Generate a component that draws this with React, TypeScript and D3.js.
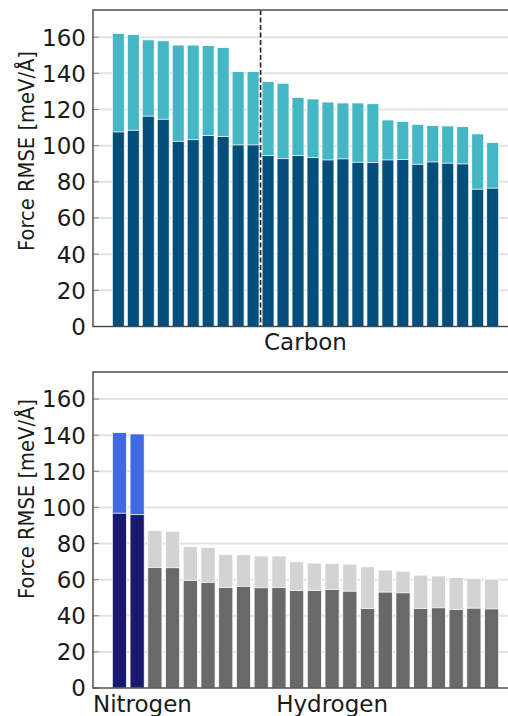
import React from "react";
import * as d3 from "d3";

const carbonHigh = [162.1, 161.5, 158.5, 158.0, 155.6, 155.6, 155.4, 154.3, 141.0, 141.0, 135.4, 134.5, 126.7, 125.8, 124.1, 123.6, 123.6, 123.2, 114.2, 113.3, 111.8, 111.1, 110.9, 110.5, 106.5, 101.7];
const carbonLow = [107.6, 108.5, 116.3, 114.6, 102.4, 103.3, 105.6, 105.0, 100.4, 100.4, 94.5, 92.8, 94.5, 93.4, 92.1, 92.7, 90.8, 90.6, 92.1, 92.3, 89.7, 91.0, 90.3, 89.9, 75.9, 76.5];
const nitrogenHigh = [141.5, 140.7];
const nitrogenLow = [96.8, 96.0];
const hydrogenHigh = [87.3, 86.8, 78.4, 77.9, 74.0, 73.8, 73.1, 73.1, 69.9, 69.2, 69.0, 68.6, 67.1, 65.3, 64.7, 62.5, 62.0, 61.2, 60.7, 60.3];
const hydrogenLow = [66.8, 66.6, 59.6, 58.5, 55.7, 56.3, 55.5, 55.7, 54.0, 54.0, 54.6, 53.6, 44.0, 53.1, 52.7, 44.0, 44.4, 43.5, 44.2, 43.8];
const yTicks = [0, 20, 40, 60, 80, 100, 120, 140, 160];
const topXTicks = [{ pos: 12.5, label: "Carbon" }];
const bottomXTicks = [{ pos: 1.3, label: "Nitrogen" }, { pos: 12.0, label: "Hydrogen" }];
const carbonSplit = 9.5;

const FONT = "'DejaVu Sans', sans-serif";

type Bar = { high: number; low: number; cHigh: string; cLow: string };

function Panel({ bars, top, bottom, xTicks, split, labelY }: { bars: Bar[]; top: number; bottom: number; xTicks: { pos: number; label: string }[]; split?: number; labelY: number }) {
  const left = 93;
  const right = 518;
  const n = bars.length;
  const dMin = -0.4, dMax = n - 1 + 0.4;
  const m = 0.05 * (dMax - dMin);
  const x = d3.scaleLinear().domain([dMin - m, dMax + m]).range([left, right]);
  const y = d3.scaleLinear().domain([0, 175]).range([bottom, top]);
  const bw = x(0.8) - x(0);
  return (
    <g>
      {yTicks.filter((t) => t > 0).map((t) => (
        <line key={"g" + t} x1={left} x2={right} y1={y(t)} y2={y(t)} stroke="#e3e3e3" strokeWidth={2} />
      ))}
      {bars.map((b, i) => (
        <g key={i}>
          <rect x={x(i) - bw / 2} y={y(b.high)} width={bw} height={y(0) - y(b.high)} fill={b.cHigh} stroke="#ffffff" strokeWidth={0.8} />
          <rect x={x(i) - bw / 2} y={y(b.low)} width={bw} height={y(0) - y(b.low)} fill={b.cLow} stroke="#ffffff" strokeWidth={0.8} />
        </g>
      ))}
      {split !== undefined && (
        <line x1={x(split)} x2={x(split)} y1={top} y2={bottom} stroke="#222" strokeWidth={1.6} strokeDasharray="5,2.5" />
      )}
      {yTicks.map((t) => (
        <g key={"t" + t}>
          <line x1={left} x2={left + 6} y1={y(t)} y2={y(t)} stroke="#888" strokeWidth={1} />
          <text x={86} y={y(t) + 8.4} textAnchor="end" fontSize={23} fontFamily={FONT} fill="#1a1a1a">{t}</text>
        </g>
      ))}
      <rect x={left} y={top} width={right - left} height={bottom - top} fill="none" stroke="#444" strokeWidth={1.4} />
      {xTicks.map((t) => (
        <text key={t.label} x={x(t.pos)} y={bottom + 23.5} textAnchor="middle" fontSize={23} fontFamily={FONT} fill="#1a1a1a">{t.label}</text>
      ))}
      <text transform={`translate(34,${labelY}) rotate(-90)`} textAnchor="middle" fontSize={22} textLength={200} lengthAdjust="spacingAndGlyphs" fontFamily={FONT} fill="#1a1a1a">Force RMSE [meV/Å]</text>
    </g>
  );
}

export default function App() {
  const topBars: Bar[] = carbonHigh.map((h, i) => ({ high: h, low: carbonLow[i], cHigh: "#45b7c4", cLow: "#034e7b" }));
  const bottomBars: Bar[] = [
    ...nitrogenHigh.map((h, i) => ({ high: h, low: nitrogenLow[i], cHigh: "#4169e1", cLow: "#191970" })),
    ...hydrogenHigh.map((h, i) => ({ high: h, low: hydrogenLow[i], cHigh: "#d3d3d3", cLow: "#696969" })),
  ];
  return (
    <svg width={508} height={716} style={{ position: "absolute", left: 0, top: 0, background: "#fff" }}>
      <Panel bars={topBars} top={10} bottom={326.5} xTicks={topXTicks} split={carbonSplit} labelY={151} />
      <Panel bars={bottomBars} top={372} bottom={688} xTicks={bottomXTicks} labelY={499} />
    </svg>
  );
}
